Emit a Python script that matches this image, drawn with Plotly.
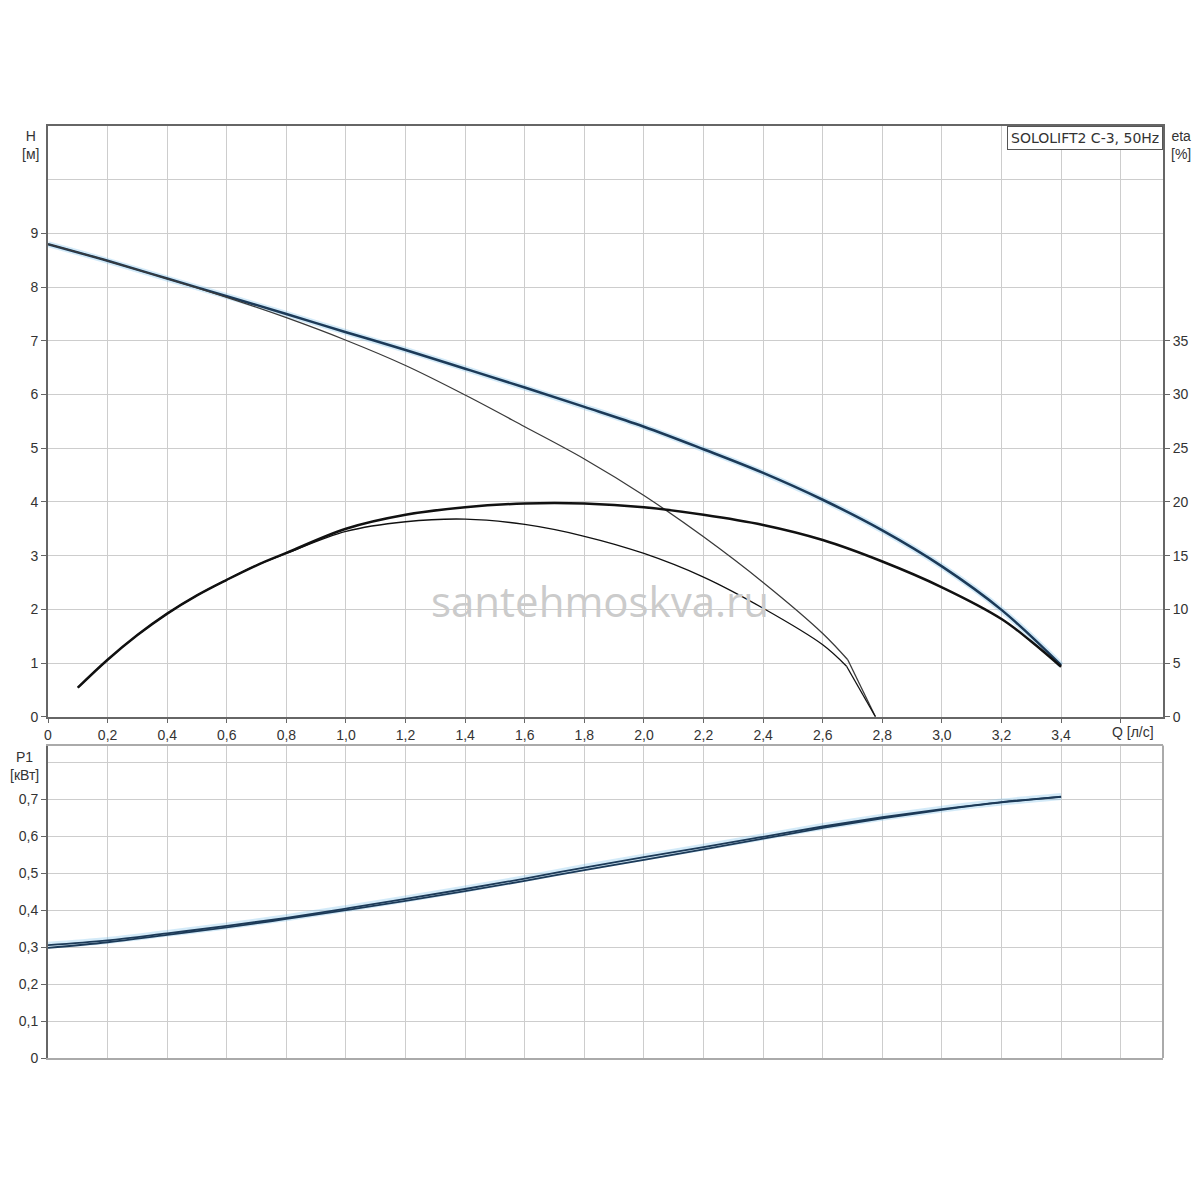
import plotly.graph_objects as go

# Q, л/с
q = [0, 0.2, 0.4, 0.6, 0.8, 1.0, 1.2, 1.4, 1.6, 1.8, 2.0, 2.2, 2.4, 2.6, 2.8, 3.0, 3.2, 3.4]
# напор H, м (основная кривая)
h_main = [8.8, 8.49, 8.16, 7.83, 7.5, 7.16, 6.83, 6.48, 6.13, 5.77, 5.4, 4.98, 4.54, 4.04, 3.47, 2.8, 1.99, 0.96]

# вторая (тонкая) кривая напора
q_thin = [0, 0.2, 0.4, 0.6, 0.8, 1.0, 1.2, 1.4, 1.6, 1.8, 2.0, 2.2, 2.4, 2.6, 2.684, 2.777]
h_thin = [8.8, 8.49, 8.16, 7.81, 7.43, 7.01, 6.54, 5.99, 5.4, 4.8, 4.12, 3.35, 2.5, 1.55, 1.06, 0]

# КПД eta, %
q_eta = [0.1, 0.2, 0.3, 0.4, 0.5, 0.6, 0.7, 0.8, 1.0, 1.2, 1.4, 1.6, 1.8, 2.0, 2.2, 2.4, 2.6, 2.8, 3.0, 3.2, 3.3, 3.4]
eta_main = [2.7, 5.3, 7.6, 9.6, 11.3, 12.75, 14.1, 15.25, 17.5, 18.8, 19.5, 19.85, 19.85, 19.5, 18.8,
            17.85, 16.45, 14.45, 12.05, 9.1, 7.0, 4.65]
q_eta_thin = [0.1, 0.2, 0.3, 0.4, 0.5, 0.6, 0.7, 0.8, 1.0, 1.2, 1.4, 1.6, 1.8, 2.0, 2.2, 2.4, 2.6, 2.68, 2.777]
eta_thin = [2.7, 5.3, 7.6, 9.6, 11.3, 12.75, 14.1, 15.2, 17.25, 18.15, 18.4, 17.9, 16.8, 15.2, 13.0,
            10.1, 6.7, 4.7, 0]

# мощность P1, кВт
p1_a = [0.305, 0.318, 0.337, 0.357, 0.379, 0.404, 0.43, 0.457, 0.485, 0.515, 0.543, 0.57, 0.598, 0.626, 0.651, 0.673, 0.692, 0.707]
p1_b = [0.298, 0.313, 0.333, 0.353, 0.376, 0.400, 0.425, 0.451, 0.479, 0.508, 0.536, 0.564, 0.593, 0.622, 0.648, 0.671, 0.691, 0.706]

# подписи осей
x_ticks = [0, 0.2, 0.4, 0.6, 0.8, 1.0, 1.2, 1.4, 1.6, 1.8, 2.0, 2.2, 2.4, 2.6, 2.8, 3.0, 3.2, 3.4, 3.6]
x_labels = ["0", "0,2", "0,4", "0,6", "0,8", "1,0", "1,2", "1,4", "1,6", "1,8", "2,0", "2,2", "2,4",
            "2,6", "2,8", "3,0", "3,2", "3,4", ""]
h_ticks = [0, 1, 2, 3, 4, 5, 6, 7, 8, 9]
eta_ticks = [0, 5, 10, 15, 20, 25, 30, 35]
p_ticks = [0, 0.1, 0.2, 0.3, 0.4, 0.5, 0.6, 0.7]
p_labels = ["0", "0,1", "0,2", "0,3", "0,4", "0,5", "0,6", "0,7"]

NAVY = "#1c3a58"
HALO = "rgba(130,195,235,0.35)"
GRID = "#cdcdcd"
AX = "#666666"

fig = go.Figure()

# кривые напора
fig.add_trace(go.Scatter(x=q, y=h_main, mode="lines", line=dict(color=HALO, width=6, shape="spline")))
fig.add_trace(go.Scatter(x=q, y=h_main, mode="lines", line=dict(color=NAVY, width=2.5, shape="spline")))
fig.add_trace(go.Scatter(x=q_thin[:-1], y=h_thin[:-1], mode="lines", line=dict(color="#3a3a3a", width=1.3, shape="spline")))
fig.add_trace(go.Scatter(x=q_thin[-2:], y=h_thin[-2:], mode="lines", line=dict(color="#3a3a3a", width=1.3)))

# КПД
fig.add_trace(go.Scatter(x=q_eta, y=eta_main, yaxis="y3", mode="lines", line=dict(color="#111111", width=2.5, shape="spline")))
fig.add_trace(go.Scatter(x=q_eta_thin[:-1], y=eta_thin[:-1], yaxis="y3", mode="lines", line=dict(color="#111111", width=1.3, shape="spline")))
fig.add_trace(go.Scatter(x=q_eta_thin[-2:], y=eta_thin[-2:], yaxis="y3", mode="lines", line=dict(color="#111111", width=1.3)))

# мощность
fig.add_trace(go.Scatter(x=q, y=p1_a, xaxis="x2", yaxis="y2", mode="lines", line=dict(color=HALO, width=7, shape="spline")))
fig.add_trace(go.Scatter(x=q, y=p1_a, xaxis="x2", yaxis="y2", mode="lines", line=dict(color=NAVY, width=1.8, shape="spline")))
fig.add_trace(go.Scatter(x=q, y=p1_b, xaxis="x2", yaxis="y2", mode="lines", line=dict(color=NAVY, width=1.8, shape="spline")))

font = dict(family="Liberation Sans, Arial, sans-serif", size=14, color="#333333")

fig.update_layout(
    width=1192, height=1192,
    margin=dict(l=40, r=37, t=118, b=142),
    paper_bgcolor="white", plot_bgcolor="white",
    showlegend=False,
    font=font,
    xaxis=dict(domain=[0, 1], anchor="y", range=[0, 3.742], tickvals=x_ticks, ticktext=x_labels,
               showgrid=True, gridcolor=GRID, gridwidth=1, showline=True, linecolor=AX, linewidth=2,
               mirror=True, ticks="outside", ticklen=4, tickcolor=AX, zeroline=False, automargin=False),
    yaxis=dict(domain=[0.3662, 1], anchor="x", range=[0, 11], tickvals=h_ticks,
               showgrid=True, gridcolor=GRID, gridwidth=1, showline=True, linecolor=AX, linewidth=2,
               ticks="outside", ticklen=5, tickcolor=AX, zeroline=False, automargin=False,
               minor=dict(dtick=1, tick0=0, showgrid=True, gridcolor=GRID, ticks="")),
    yaxis3=dict(overlaying="y", side="right", anchor="x", range=[0, 55], tickvals=eta_ticks,
                showgrid=False, showline=True, linecolor=AX, linewidth=2,
                ticks="outside", ticklen=5, tickcolor=AX, zeroline=False, automargin=False),
    xaxis2=dict(domain=[0, 1], anchor="y2", range=[0, 3.742], tickvals=x_ticks, showticklabels=False,
                showgrid=True, gridcolor=GRID, gridwidth=1, showline=True, linecolor="#aaaaaa", linewidth=2,
                mirror=True, ticks="", zeroline=False, automargin=False),
    yaxis2=dict(domain=[0, 0.3353], anchor="x2", range=[0, 0.845], tickvals=p_ticks, ticktext=p_labels,
                showgrid=True, gridcolor=GRID, gridwidth=1, showline=True, linecolor=AX, linewidth=2,
                ticks="outside", ticklen=5, tickcolor=AX, zeroline=False, automargin=False,
                minor=dict(dtick=0.1, tick0=0, showgrid=True, gridcolor=GRID, ticks="")),
    shapes=[dict(type="line", xref="x2 domain", yref="y2 domain", x0=1, x1=1, y0=0, y1=1,
                 line=dict(color="#aaaaaa", width=2))],
)

fig.add_annotation(text="H<br>[м]", xref="paper", yref="paper", x=-0.0161, y=1.0,
                   xanchor="center", yanchor="top", showarrow=False, font=font, align="center")
fig.add_annotation(text="eta<br>[%]", xref="paper", yref="paper", x=1.016, y=1.0,
                   xanchor="center", yanchor="top", showarrow=False, font=font, align="center")
fig.add_annotation(text="Q [л/с]", xref="paper", yref="paper", x=0.973, y=0.3498,
                   xanchor="center", yanchor="middle", showarrow=False, font=font)
fig.add_annotation(text="P1<br>[кВт]", xref="paper", yref="paper", x=-0.0215, y=0.3337,
                   xanchor="center", yanchor="top", showarrow=False, font=font, align="center")
fig.add_annotation(text="SOLOLIFT2 C-3, 50Hz", xref="paper", yref="paper", x=1, y=1,
                   xanchor="right", yanchor="top", showarrow=False,
                   font=dict(family="DejaVu Sans, sans-serif", size=14, color="#333333"),
                   bordercolor="#555555", borderwidth=1, borderpad=3, bgcolor="white")
fig.add_annotation(text="santehmoskva.ru", xref="paper", yref="paper", x=0.495, y=0.4914,
                   xanchor="center", yanchor="middle", showarrow=False,
                   font=dict(family="Open Sans, Noto Sans, sans-serif", size=42, color="#cbcbcb"))

fig.write_html("out.html")
